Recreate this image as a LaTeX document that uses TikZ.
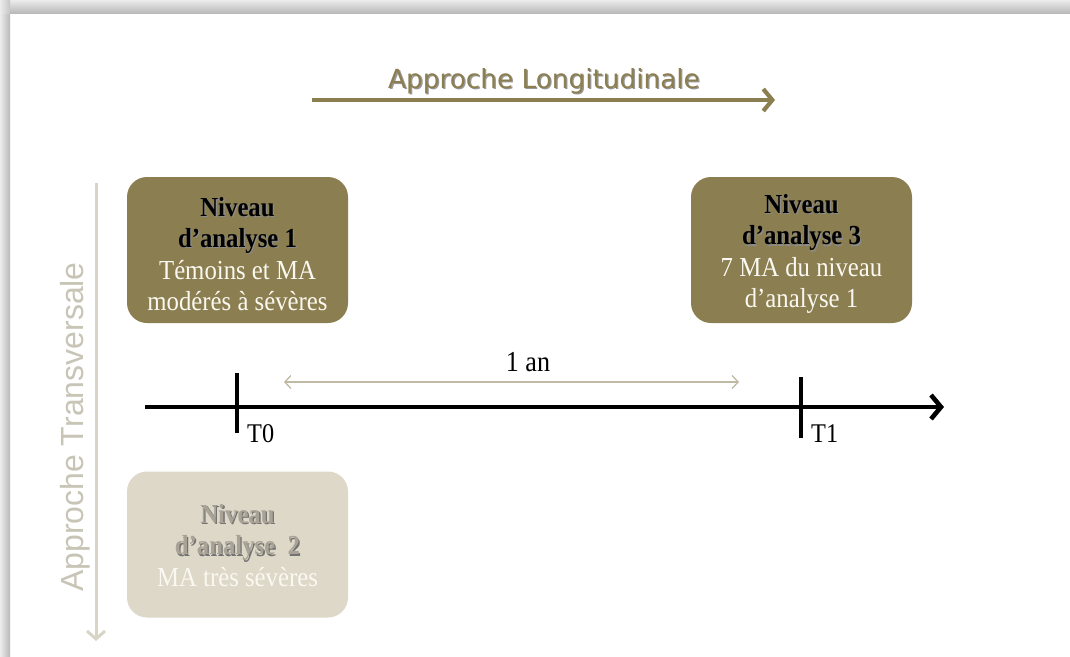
\documentclass[tikz,border=0pt]{standalone}
\usepackage{fontspec}
\setmainfont{Liberation Serif}[FakeStretch=0.9]
\newfontfamily\dejavu{DejaVu Sans}
\newfontfamily\arialf{Liberation Sans}
\usetikzlibrary{arrows.meta}
\definecolor{olive}{RGB}{139,126,80}
\definecolor{lightbox}{RGB}{221,216,199}
\definecolor{paletext}{RGB}{250,248,240}
\definecolor{graybold}{RGB}{168,163,150}
\definecolor{vertgray}{RGB}{200,196,182}
\definecolor{vertarrow}{RGB}{217,213,198}
\definecolor{thinarrow}{RGB}{192,186,162}
\newcommand\shtxt[2]{\rlap{\hspace{1.3pt}\raisebox{-1.3pt}{\textcolor{#2}{#1}}}#1}
\tikzset{
  levelbox/.style={rectangle, rounded corners=20pt, minimum width=221pt, minimum height=146pt, inner sep=0pt},
  darkbox/.style={levelbox, fill=olive},
  palebox/.style={levelbox, fill=lightbox},
  boxtext/.style={align=center, inner sep=0pt, text=paletext, font=\fontsize{27.5}{31.5}\selectfont},
  timelbl/.style={font=\fontsize{27}{30}\selectfont, anchor=base west, inner sep=0pt},
}
\begin{document}
\begin{tikzpicture}[x=1pt,y=-1pt]
\useasboundingbox (0,0) rectangle (1070,656);
\fill[white] (0,0) rectangle (1070,656);
% frame shadow
\shade[top color=gray!15, bottom color=gray!55] (0,0) rectangle (1070,13);
\shade[left color=gray!15, right color=gray!55] (0,13) rectangle (10,656);
\shade[left color=gray!15, right color=gray!45] (0,0) rectangle (10,13);

% top arrow
\node[anchor=base, inner sep=0pt, text=olive, font=\dejavu\fontsize{26.3}{30}\selectfont] (lgt) at (544,88) {\shtxt{Approche Longitudinale}{black!40}};
\coordinate (lgA) at (312,100);
\coordinate (lgB) at (775,100);
\draw[olive, line width=4.2pt, -{Straight Barb[length=9pt,width=22pt]}] (lgA) -- (lgB);

% vertical arrow
\node[rotate=90, anchor=base, inner sep=0pt, text=vertgray, font=\arialf\fontsize{32}{34}\selectfont] (trt) at (83,427) {Approche Transversale};
\coordinate (trA) at (96,183);
\coordinate (trB) at (96,641);
\draw[vertarrow, line width=3pt, -{Straight Barb[length=8pt,width=18pt]}] (trA) -- (trB);

% boxes
\node[darkbox] (n1) at (237.5,250) {};
\node[darkbox] (n3) at (801.5,250) {};
\node[palebox] (n2) at (237.5,544.5) {};
\node[boxtext] (n1t) at ([yshift=-4pt]n1.center) {\textbf{\textcolor{black}{\shtxt{Niveau}{black!45}}}\\ \textbf{\textcolor{black}{\shtxt{d’analyse 1}{black!45}}}\\ Témoins et MA\\ modérés à sévères};
\node[boxtext] (n3t) at ([yshift=-4pt]n3.center) {\textbf{\textcolor{black}{\shtxt{Niveau}{black!45}}}\\ \textbf{\textcolor{black}{\shtxt{d’analyse 3}{black!45}}}\\ 7 MA du niveau\\ d’analyse 1};
\node[boxtext] (n2t) at ([yshift=-1pt]n2.center) {\textbf{\textcolor{graybold}{\shtxt{Niveau}{black!55}}}\\ \textbf{\textcolor{graybold}{\shtxt{d’analyse~~2}{black!55}}}\\ MA très sévères};

% timeline
\coordinate (tlA) at (145,407);
\coordinate (tlB) at (944,407);
\draw[black, line width=4.6pt, -{Straight Barb[length=10pt,width=24pt]}] (tlA) -- (tlB);
\coordinate (t0a) at (237,373);
\coordinate (t0b) at (237,433);
\coordinate (t1a) at (801,377);
\coordinate (t1b) at (801,438);
\draw[black, line width=3.2pt] (t0a) -- (t0b);
\draw[black, line width=3.2pt] (t1a) -- (t1b);
\node[timelbl] (T0) at (247,442) {T0};
\node[timelbl] (T1) at (811,442) {T1};

% one year
\coordinate (anA) at (284,382);
\coordinate (anB) at (739,382);
\draw[thinarrow, line width=1.3pt, {Straight Barb[length=6pt,width=13pt]}-{Straight Barb[length=6pt,width=13pt]}] (anA) -- (anB);
\node[anchor=base, inner sep=0pt, font=\fontsize{29}{32}\selectfont] (an) at (528,371) {1 an};
\end{tikzpicture}
\end{document}
